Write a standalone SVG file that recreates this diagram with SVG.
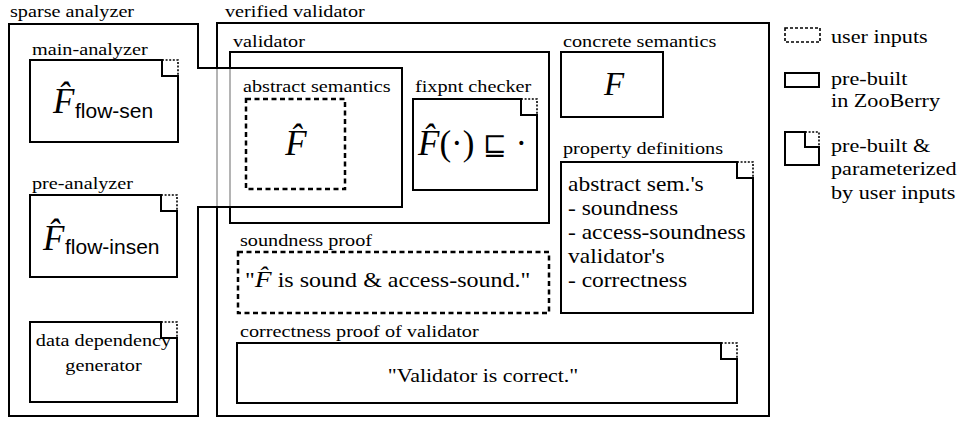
<svg xmlns="http://www.w3.org/2000/svg" width="967" height="421" viewBox="0 0 967 421">
<style>
.box{fill:none;stroke:#000;stroke-width:2}
.dot{fill:none;stroke:#000;stroke-width:1.6;stroke-dasharray:2 1.6}
.dash{fill:none;stroke:#000;stroke-width:2.5;stroke-dasharray:5 3.5}
.ldash{fill:none;stroke:#000;stroke-width:1.6;stroke-dasharray:3 2}
.grey{fill:none;stroke:#b4b4b4;stroke-width:2}
.lbl{font-size:17.6px}
.body{font-size:20.4px}
.leg{font-size:19.3px}
.mid{text-anchor:middle}
.m{font-style:italic}
.big{font-size:35px}
</style>
<rect width="967" height="421" fill="#fff"/>
<g font-family="'Liberation Serif', 'Times New Roman', serif" fill="#000">

<g id="verified-validator">
  <path class="box" d="M217,68V23H769V416H217V207"/>
  <text class="lbl" transform="translate(225,17) scale(1.15,1)">verified validator</text>
</g>
<g id="validator">
  <path class="box" d="M230,68V52H549V223H230V207"/>
  <text class="lbl" transform="translate(233,47) scale(1.15,1)">validator</text>
</g>
<g id="connectors">
  <path class="grey" d="M217,68V207M230,68V207"/>
</g>
<g id="sparse-analyzer">
  <path class="box" d="M9,24H198V68H402V207H198V416H9Z"/>
  <text class="lbl" transform="translate(10,17) scale(1.15,1)">sparse analyzer</text>
</g>

<g id="main-analyzer">
  <text class="lbl" transform="translate(32,55) scale(1.15,1)">main-analyzer</text>
  <path class="box" d="M30,60H162V76H178V142H30Z"/>
  <path class="dot" d="M162,60H178V76"/>
  <text class="big m" x="53" y="113">F&#x302;</text>
  <text font-family="'Liberation Sans', Arial, sans-serif" font-size="21" x="75" y="118">flow-sen</text>
</g>

<g id="pre-analyzer">
  <text class="lbl" transform="translate(32,189) scale(1.15,1)">pre-analyzer</text>
  <path class="box" d="M30,195H161V211H177V277H30Z"/>
  <path class="dot" d="M161,195H177V211"/>
  <text class="big m" x="43" y="250">F&#x302;</text>
  <text font-family="'Liberation Sans', Arial, sans-serif" font-size="21" x="65" y="254">flow-insen</text>
</g>

<g id="data-dependency-generator">
  <path class="box" d="M30,322H161V338H177V402H30Z"/>
  <path class="dot" d="M161,322H177V338"/>
  <text class="lbl mid" transform="translate(103.5,346) scale(1.15,1)">data dependency</text>
  <text class="lbl mid" transform="translate(103.5,371) scale(1.15,1)">generator</text>
</g>

<g id="abstract-semantics">
  <text class="lbl" transform="translate(243,92) scale(1.15,1)">abstract semantics</text>
  <rect class="dash" x="246" y="99" width="99" height="90"/>
  <text class="big m mid" x="296" y="155">F&#x302;</text>
</g>

<g id="fixpnt-checker">
  <text class="lbl" transform="translate(415,92) scale(1.15,1)">fixpnt checker</text>
  <path class="box" d="M413,99H521V115H537V190H413Z"/>
  <path class="dot" d="M521,99H537V115"/>
  <text class="big" x="418" y="155"><tspan class="m">F&#x302;</tspan>(·) <tspan font-family="'DejaVu Serif', serif" font-size="28">⊑</tspan> ·</text>
</g>

<g id="concrete-semantics">
  <text class="lbl" transform="translate(563,47) scale(1.15,1)">concrete semantics</text>
  <rect class="box" x="561" y="52" width="102" height="65"/>
  <text class="m mid" font-size="33" x="614" y="95">F</text>
</g>

<g id="property-definitions">
  <text class="lbl" transform="translate(563,154) scale(1.15,1)">property definitions</text>
  <path class="box" d="M561,162H737V178H753V313H561Z"/>
  <path class="dot" d="M737,162H753V178"/>
  <text class="body" transform="translate(568,191) scale(1.15,1)">abstract sem.'s</text>
  <text class="body" transform="translate(568,215) scale(1.15,1)">- soundness</text>
  <text class="body" transform="translate(568,239) scale(1.15,1)">- access-soundness</text>
  <text class="body" transform="translate(568,263) scale(1.15,1)">validator's</text>
  <text class="body" transform="translate(568,287) scale(1.15,1)">- correctness</text>
</g>

<g id="soundness-proof">
  <text class="lbl" transform="translate(240,246) scale(1.15,1)">soundness proof</text>
  <rect class="dash" x="238" y="252" width="311" height="61"/>
  <text font-size="20.9" transform="translate(245,287) scale(1.15,1)">"<tspan class="m" font-size="24">F&#x302;</tspan> is sound &amp; access-sound."</text>
</g>

<g id="correctness-proof">
  <text class="lbl" transform="translate(240,337) scale(1.15,1)">correctness proof of validator</text>
  <path class="box" d="M237,343H721V359H737V403H237Z"/>
  <path class="dot" d="M721,343H737V359"/>
  <text class="mid" font-size="19.1" transform="translate(483,382) scale(1.15,1)">"Validator is correct."</text>
</g>

<g id="legend">
  <rect class="ldash" x="785" y="28" width="35" height="14"/>
  <text class="leg" transform="translate(831,43) scale(1.15,1)">user inputs</text>
  <rect class="box" x="785" y="73" width="34" height="14"/>
  <text class="leg" transform="translate(831,85) scale(1.15,1)">pre-built</text>
  <text class="leg" transform="translate(831,107) scale(1.15,1)">in ZooBerry</text>
  <path class="box" d="M785,132H805V147H819V165H785Z"/>
  <path class="dot" d="M805,132H819V147"/>
  <text class="leg" transform="translate(831,152) scale(1.15,1)">pre-built &amp;</text>
  <text class="leg" transform="translate(831,175) scale(1.15,1)">parameterized</text>
  <text class="leg" transform="translate(831,199) scale(1.15,1)">by user inputs</text>
</g>
</g>
</svg>
